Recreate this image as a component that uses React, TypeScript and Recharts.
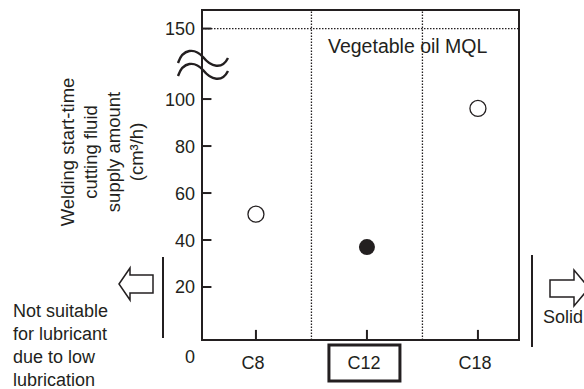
import { ComposedChart, Scatter, XAxis, YAxis, ReferenceLine, ReferenceArea } from 'recharts'

document.body.style.margin = '0'

const INK = '#231f20'
const FONT = '"Liberation Sans", Arial, sans-serif'

// categories along x
const categories = ['C8', 'C12', 'C18']
const highlighted = 'C12'

// welding start-time supply amount (cm3/h)
const openValues = [
  { cat: 'C8', value: 51 },
  { cat: 'C18', value: 96 },
]
const filledValues = [{ cat: 'C12', value: 37 }]

// y ticks (axis is broken above 100)
const yTicks = [0, 20, 40, 60, 80, 100, 150]
const MQL_LEVEL = 150

const X_DOMAIN = [-0.486, 2.37]
const Y_DOMAIN = [-2.55, 137.9]

// compress the broken part of the axis
const toPlot = (v: number) => (v <= 100 ? v : 100 + (v - 100) * 0.6)
const fromPlot = (p: number) => (p <= 100 ? p : 100 + (p - 100) / 0.6)

const openData = openValues.map((d) => ({ x: categories.indexOf(d.cat), y: toPlot(d.value) }))
const filledData = filledValues.map((d) => ({ x: categories.indexOf(d.cat), y: toPlot(d.value) }))

function YTick({ x, y, payload }: any) {
  const label = String(Math.round(fromPlot(payload.value)))
  if (label === '0') {
    return (
      <text x={x} y={363} textAnchor="end" fill={INK} fontSize={18} fontFamily={FONT}>
        {label}
      </text>
    )
  }
  return (
    <text x={x} y={y} dy="0.36em" textAnchor="end" fill={INK} fontSize={18} fontFamily={FONT}>
      {label}
    </text>
  )
}

function XTick({ x, y, payload }: any) {
  const label = categories[payload.value]
  return (
    <g>
      {label === highlighted && (
        <rect x={x - 38} y={y + 5} width={71} height={36} fill="none" stroke={INK} strokeWidth={3} />
      )}
      <text x={x - 3} y={y + 29} textAnchor="middle" fill={INK} fontSize={18} fontFamily={FONT}>
        {label}
      </text>
    </g>
  )
}

const OpenDot = (p: any) => (
  <circle cx={p.cx} cy={p.cy} r={8} fill="#fff" stroke={INK} strokeWidth={1.3} />
)
const FilledDot = (p: any) => <circle cx={p.cx} cy={p.cy} r={8} fill={INK} />

export default function App() {
  const txt = { fill: INK, fontSize: 18, fontFamily: FONT }
  return (
    <div style={{ position: 'relative', width: 584, height: 389, background: '#fff' }}>
      <ComposedChart width={584} height={389} margin={{ top: 10, right: 65, bottom: 0, left: 0 }}>
        <XAxis
          type="number"
          dataKey="x"
          domain={X_DOMAIN}
          ticks={[0, 1, 2]}
          allowDataOverflow
          height={49}
          tickSize={0}
          tickMargin={0}
          axisLine={{ stroke: INK, strokeWidth: 2 }}
          tickLine={false}
          tick={<XTick />}
          interval={0}
        />
        <YAxis
          type="number"
          dataKey="y"
          domain={Y_DOMAIN}
          ticks={yTicks.map(toPlot)}
          allowDataOverflow
          width={202}
          tickSize={0}
          tickMargin={7}
          axisLine={{ stroke: INK, strokeWidth: 2 }}
          tickLine={false}
          tick={<YTick />}
          interval={0}
        />
        <ReferenceArea
          x1={X_DOMAIN[0]}
          x2={X_DOMAIN[1]}
          y1={Y_DOMAIN[0]}
          y2={Y_DOMAIN[1]}
          fill="none"
          fillOpacity={0}
          stroke={INK}
          strokeWidth={2}
        />
        <ReferenceLine x={0.5} stroke={INK} strokeWidth={1.3} strokeDasharray="1.5 1.5" />
        <ReferenceLine x={1.5} stroke={INK} strokeWidth={1.3} strokeDasharray="1.5 1.5" />
        <ReferenceLine y={toPlot(MQL_LEVEL)} stroke={INK} strokeWidth={1.3} strokeDasharray="1.5 1.5" />

        {/* inward tick marks */}
        {yTicks.filter((v) => v > 0).map((v) => (
          <ReferenceLine
            key={'yt' + v}
            ifOverflow="visible"
            segment={[{ x: X_DOMAIN[0], y: toPlot(v) }, { x: X_DOMAIN[0] + 0.085, y: toPlot(v) }]}
            stroke={INK}
            strokeWidth={2}
          />
        ))}
        {categories.map((c, i) => (
          <ReferenceLine
            key={'xt' + c}
            ifOverflow="visible"
            segment={[{ x: i, y: Y_DOMAIN[0] }, { x: i, y: Y_DOMAIN[0] + 4.3 }]}
            stroke={INK}
            strokeWidth={2}
          />
        ))}

        <Scatter data={openData} shape={<OpenDot />} isAnimationActive={false} />
        <Scatter data={filledData} shape={<FilledDot />} isAnimationActive={false} />
      </ComposedChart>

      <svg width={584} height={389} style={{ position: 'absolute', left: 0, top: 0, pointerEvents: 'none' }}>
        {/* axis break */}
        <path d="M178,63 C183,48 195,48 203,57 C211,67 222,70 228,58" fill="none" stroke={INK} strokeWidth={2.4} />
        <path d="M178,76 C183,61 195,61 203,70 C211,80 222,83 228,71" fill="none" stroke={INK} strokeWidth={2.4} />

        <text x={328} y={53} {...txt} fontSize={19.5}>Vegetable oil MQL</text>

        {/* y label */}
        <g transform="translate(0,152)" textAnchor="middle" {...txt} fontSize={18.5}>
          <text transform="translate(74,0) rotate(-90)">Welding start-time</text>
          <text transform="translate(97,0) rotate(-90)">cutting fluid</text>
          <text transform="translate(120,0) rotate(-90)">supply amount</text>
          <text transform="translate(143,0) rotate(-90)">(cm³/h)</text>
        </g>

        {/* left: not suitable */}
        <line x1={163} x2={163} y1={257} y2={338} stroke={INK} strokeWidth={2} />
        <polygon
          points="119,284 130,268 130,275 153,275 153,293 130,293 130,300"
          fill="#fff"
          stroke={INK}
          strokeWidth={1.5}
        />
        <text x={13} y={317} {...txt}>Not suitable</text>
        <text x={13} y={340} {...txt}>for lubricant</text>
        <text x={13} y={363} {...txt}>due to low</text>
        <text x={13} y={386} {...txt}>lubrication</text>

        {/* right: solid */}
        <line x1={532} x2={532} y1={255} y2={347} stroke={INK} strokeWidth={2} />
        <polygon
          points="550,280 574,280 574,270 589,288 574,306 574,297 550,297"
          fill="#fff"
          stroke={INK}
          strokeWidth={1.5}
        />
        <text x={543} y={323} {...txt}>Solid</text>
      </svg>
    </div>
  )
}
